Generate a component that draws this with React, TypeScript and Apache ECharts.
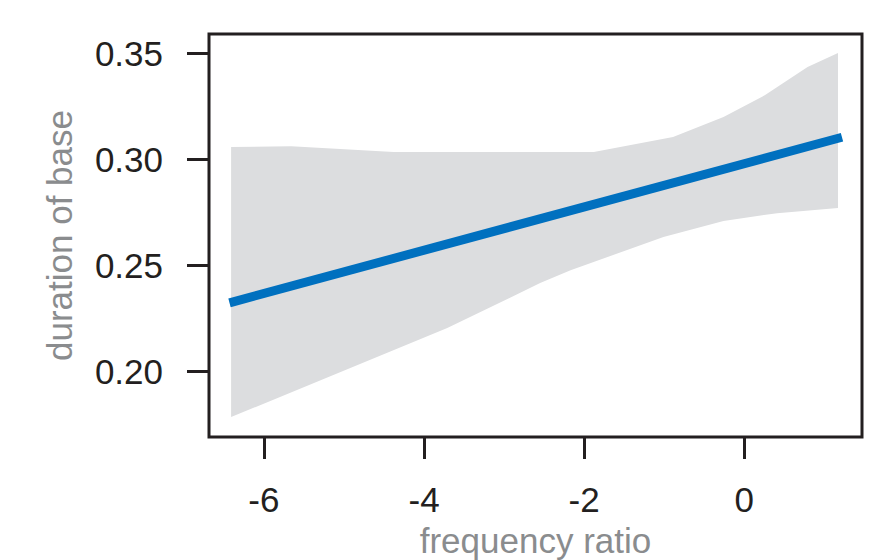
import React, { useEffect, useRef } from "react";
import * as echarts from "echarts";

// Fitted regression line (frequency ratio -> duration of base)
const lineX = [-6.43, 1.22];
const lineY = [0.2322, 0.3103];

// Confidence band, upper boundary
const upperX = [-6.41, -5.66, -4.38, -1.88, -0.89, -0.26, 0.26, 0.79, 1.17];
const upperY = [0.3057, 0.3061, 0.3033, 0.3033, 0.3104, 0.3198, 0.3302, 0.3434, 0.35];

// Confidence band, lower boundary
const lowerX = [-6.41, -3.71, -2.55, -2.17, -1.01, -0.26, 0.41, 1.17];
const lowerY = [0.1783, 0.2203, 0.2415, 0.2476, 0.2632, 0.2708, 0.2745, 0.2769];

const xTicks = [-6, -4, -2, 0];
const yTicks = [0.2, 0.25, 0.3, 0.35];

const FONT = "'Liberation Sans', Arial, Helvetica, sans-serif";
const INK = "#231f20";
const NAME_GRAY = "#8a8c8e";

export default function App() {
  const ref = useRef<HTMLDivElement>(null);

  useEffect(() => {
    if (!ref.current) return;
    const chart = echarts.init(ref.current, undefined, { renderer: "svg" });

    const bandPts: number[][] = [];
    upperX.forEach((x, i) => bandPts.push([x, upperY[i]]));
    for (let i = lowerX.length - 1; i >= 0; i--) bandPts.push([lowerX[i], lowerY[i]]);

    chart.setOption({
      animation: false,
      backgroundColor: "#ffffff",
      textStyle: { fontFamily: FONT },
      grid: {
        left: 209,
        right: 16,
        top: 34,
        bottom: 123,
        containLabel: false,
        outerBoundsMode: "none",
        show: true,
        borderColor: INK,
        borderWidth: 3,
        backgroundColor: "transparent",
      },
      xAxis: {
        type: "value",
        min: -6.686,
        max: 1.47,
        name: "frequency ratio",
        nameLocation: "middle",
        nameGap: 86,
        nameTextStyle: { color: NAME_GRAY, fontSize: 35, fontFamily: FONT },
        axisLine: { show: false, onZero: false },
        splitLine: { show: false },
        axisTick: {
          show: true,
          length: 22,
          customValues: xTicks,
          lineStyle: { color: INK, width: 3 },
        },
        axisLabel: {
          customValues: xTicks,
          color: INK,
          fontSize: 35,
          fontFamily: FONT,
          margin: 45,
          formatter: (v: number) => String(v),
        },
      },
      yAxis: {
        type: "value",
        min: 0.1689,
        max: 0.359,
        name: "duration of base",
        nameLocation: "middle",
        nameGap: 132,
        nameTextStyle: { color: NAME_GRAY, fontSize: 35, fontFamily: FONT },
        axisLine: { show: false, onZero: false },
        splitLine: { show: false },
        axisTick: {
          show: true,
          length: 22,
          customValues: yTicks,
          lineStyle: { color: INK, width: 3 },
        },
        axisLabel: {
          customValues: yTicks,
          color: INK,
          fontSize: 35,
          fontFamily: FONT,
          margin: 46,
          formatter: (v: number) => v.toFixed(2),
        },
      },
      series: [
        {
          type: "custom",
          data: [[0, 0]],
          z: 1,
          silent: true,
          renderItem: (params: any, api: any) => {
            const points = bandPts.map((p) => api.coord(p));
            return {
              type: "polygon",
              shape: { points },
              style: { fill: "#dcdddf", stroke: "none" },
            };
          },
        },
        {
          type: "line",
          z: 3,
          symbol: "none",
          data: lineX.map((x, i) => [x, lineY[i]]),
          lineStyle: { color: "#0070bf", width: 9, cap: "butt" },
        },
      ],
    });

    return () => chart.dispose();
  }, []);

  return (
    <div
      ref={ref}
      style={{ position: "fixed", left: 0, top: 0, width: 878, height: 560, background: "#fff" }}
    />
  );
}
